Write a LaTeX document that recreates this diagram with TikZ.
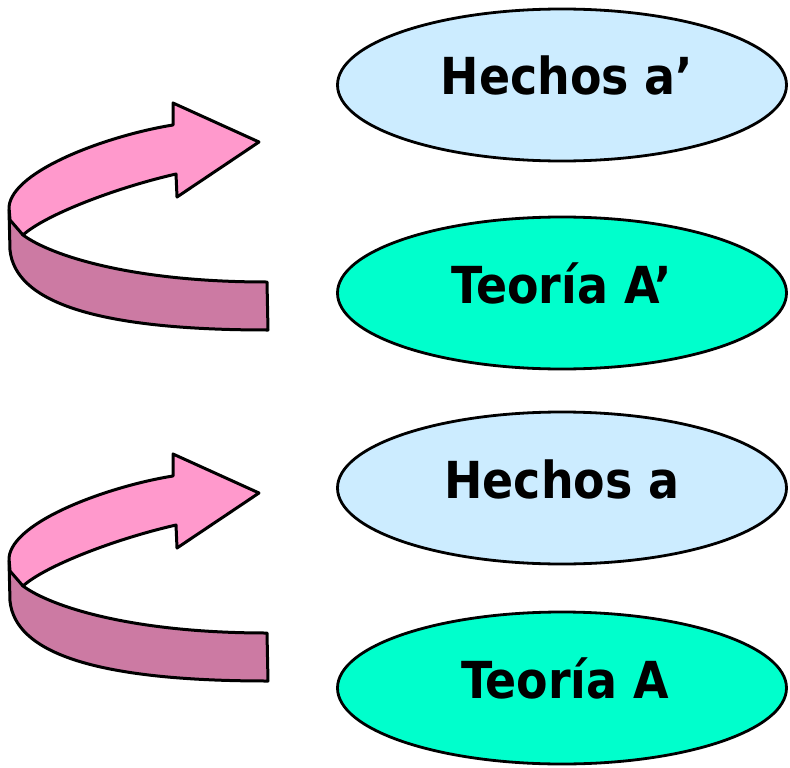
\documentclass[tikz,border=0pt]{standalone}
\usepackage{fontspec}
\newfontfamily\tahoma{DejaVu Sans Condensed Bold}
\usetikzlibrary{shapes.geometric}

\definecolor{cielo}{HTML}{CCECFF}
\definecolor{menta}{HTML}{00FFCC}
\definecolor{rosa}{HTML}{FF99CC}
\definecolor{malva}{HTML}{CC7AA3}

\tikzset{
	globo/.style = {ellipse, draw, line width=2.8pt, inner sep=0pt,
		minimum width=449pt, minimum height=152pt,
		font=\tahoma\fontsize{51}{51}\selectfont,
		text height=37pt, text depth=17pt},
	hechos/.style = {globo, fill=cielo},
	teoria/.style = {globo, fill=menta},
	cinta/.style = {draw, line width=3pt, line join=round}
}

% curled 3d arrow, #1 = vertical offset
\newcommand{\vuelta}[1]{
	\begin{scope}[shift={(0,#1)}]
		\fill[cinta, fill=malva] (9,210) -- (10,250)
			.. controls (15,300) and (90,330) .. (268,330)
			-- (267,282)
			.. controls (130,282) and (50,255) .. (23,235) -- cycle;
		\fill[cinta, fill=rosa] (173,125)
			.. controls (110,135) and (12,170) .. (9,207)
			-- (10,220) -- (23,235)
			.. controls (45,215) and (115,188) .. (176,174)
			-- (177,197) -- (259,142) -- (173,103) -- cycle;
	\end{scope}
}

\begin{document}
\begin{tikzpicture}[x=1pt,y=-1pt]
	\useasboundingbox (0,0) rectangle (790,768);
	\node[hechos] (hechosAp) at (562,85) {\hspace*{10pt}Hechos a’};
	\node[teoria] (teoriaAp) at (562,293) {Teoría A’};
	\node[hechos] (hechosA) at (562,488) {Hechos a};
	\node[teoria] (teoriaA) at (562,688) {\hspace*{6pt}Teoría A};
	\vuelta{0}
	\vuelta{351}
\end{tikzpicture}
\end{document}
